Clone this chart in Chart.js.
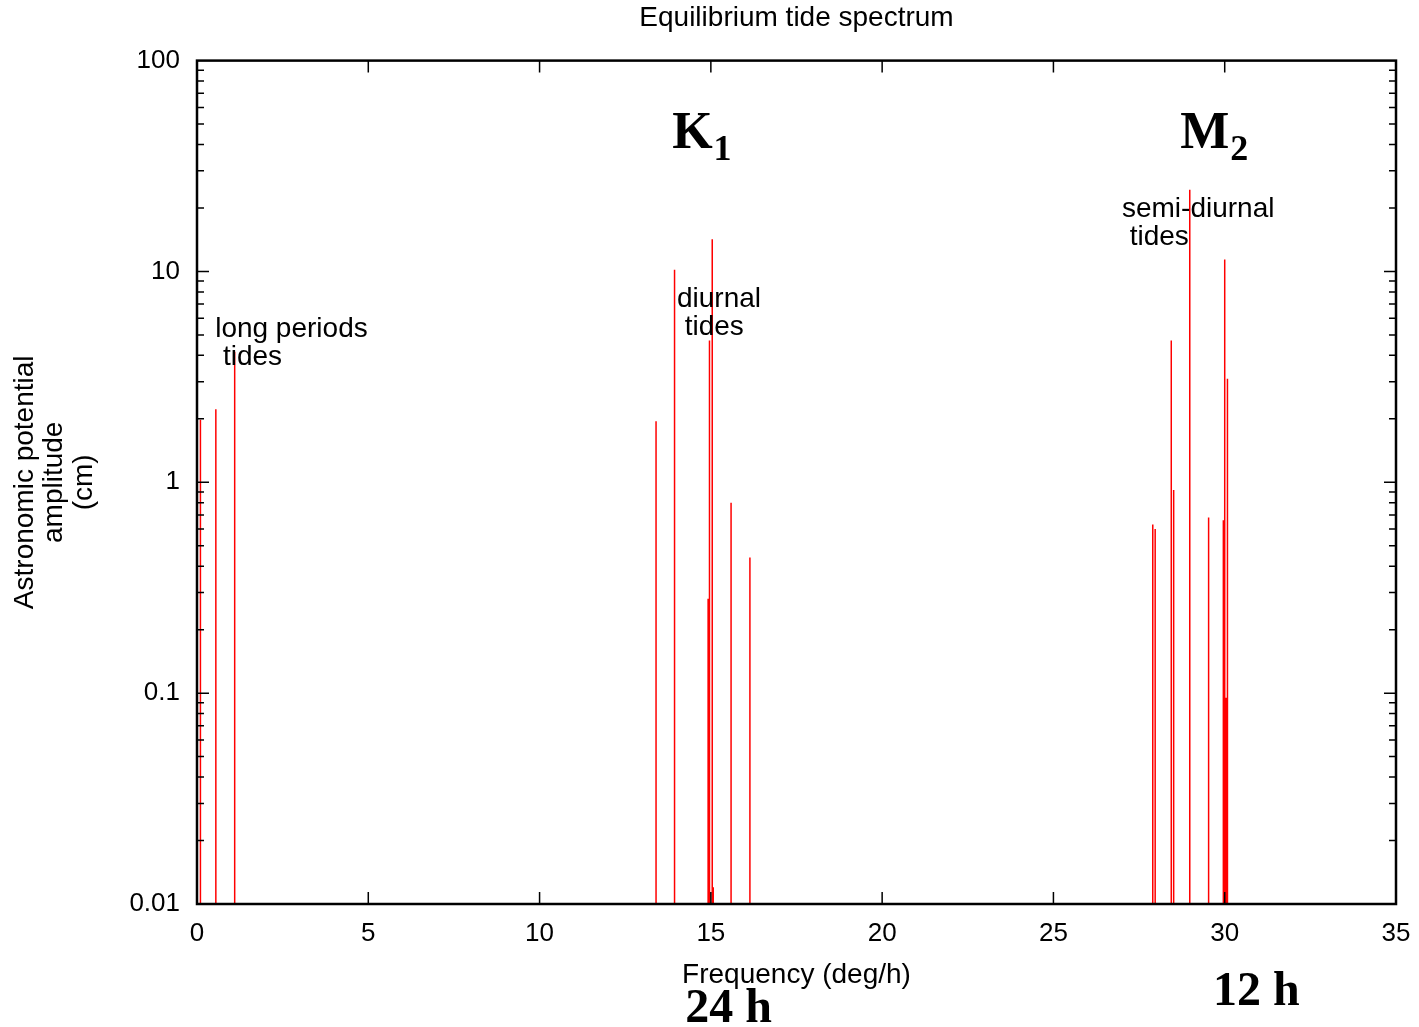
<!DOCTYPE html>
<html>
<head>
<meta charset="utf-8">
<script src="https://cdn.jsdelivr.net/npm/chart.js@4/dist/chart.umd.min.js"></script>
<style>
  html, body { margin: 0; padding: 0; background: #fff; }
  #wrap { width: 1419px; height: 1027px; }
</style>
</head>
<body>
<div id="wrap"><canvas id="tide-spectrum"></canvas></div>
<script>
// Spectral lines: frequency (deg/h) and amplitude (cm)

const longPeriodFreq = [0.1, 0.55, 1.1];
const longPeriodAmp = [1.98, 2.22, 4.16];

const diurnalFreq = [13.4, 13.94, 14.92, 14.96, 15.04, 15.07, 15.59, 16.14];
const diurnalAmp = [1.95, 10.2, 0.28, 4.7, 14.2, 0.012, 0.8, 0.44];

const semiDiurnalFreq = [27.9, 27.97, 28.44, 28.51, 28.98, 29.53, 29.96, 30.0, 30.04, 30.08];
const semiDiurnalAmp = [0.63, 0.6, 4.7, 0.92, 24.4, 0.68, 0.66, 11.4, 0.095, 3.1];

const xTicks = [0, 5, 10, 15, 20, 25, 30, 35];
const yTicks = [0.01, 0.1, 1, 10, 100];
const yTickLabels = ["0.01", "0.1", "1", "10", "100"];

const SANS = "'Liberation Sans', Arial, Helvetica, sans-serif";
const SERIF = "'Liberation Serif', 'Times New Roman', serif";

// each line goes from the bottom of the axis up to its amplitude
function spikes(freq, amp) {
  const pts = [];
  freq.forEach((f, i) => {
    pts.push({ x: f, y: yTicks[0] }, { x: f, y: amp[i] }, { x: f, y: null });
  });
  return pts;
}

const lineStyle = {
  borderColor: "#ff0000",
  borderWidth: 1.5,
  pointRadius: 0,
  spanGaps: false,
  tension: 0,
};

// gnuplot style frame: border on four sides, ticks pointing inward
const framePlugin = {
  id: "frame",
  afterDraw(chart) {
    const { ctx, chartArea: a, scales } = chart;
    ctx.save();
    ctx.strokeStyle = "#000";
    ctx.lineWidth = 1.5;
    ctx.beginPath();
    xTicks.forEach((v) => {
      const px = scales.x.getPixelForValue(v);
      ctx.moveTo(px, a.bottom);
      ctx.lineTo(px, a.bottom - 12);
      ctx.moveTo(px, a.top);
      ctx.lineTo(px, a.top + 12);
    });
    for (let e = -2; e < 2; e++) {
      for (let m = 1; m <= 9; m++) {
        const py = scales.y.getPixelForValue(m * Math.pow(10, e));
        const len = m === 1 ? 12 : 7;
        ctx.moveTo(a.left, py);
        ctx.lineTo(a.left + len, py);
        ctx.moveTo(a.right, py);
        ctx.lineTo(a.right - len, py);
      }
    }
    ctx.stroke();
    ctx.lineWidth = 2.5;
    ctx.strokeRect(a.left, a.top, a.right - a.left, a.bottom - a.top);
    ctx.restore();
  },
};

// text labels placed in data units (x) and data or axis offsets (y)
const notes = [
  { lines: ["long periods", " tides"], x: 0.53, y: 4.9 },
  { lines: ["diurnal", " tides"], x: 14.01, y: 6.81 },
  { lines: ["semi-diurnal", " tides"], x: 27.0, y: 18.2 },
];
const bigLabels = [
  { main: "K", sub: "1", x: 13.87, y: 38.6 },
  { main: "M", sub: "2", x: 28.7, y: 38.6 },
];
const periodLabels = [
  { text: "24 h", x: 14.25, below: 118 },
  { text: "12 h", x: 29.66, below: 101 },
];

const notesPlugin = {
  id: "notes",
  afterDraw(chart) {
    const { ctx, chartArea: a, scales } = chart;
    ctx.save();
    ctx.fillStyle = "#000";
    ctx.textAlign = "left";
    ctx.textBaseline = "alphabetic";

    ctx.font = "28px " + SANS;
    notes.forEach((n) => {
      const px = scales.x.getPixelForValue(n.x);
      const py = scales.y.getPixelForValue(n.y);
      n.lines.forEach((t, i) => ctx.fillText(t, px, py + i * 28));
    });

    bigLabels.forEach((b) => {
      const px = scales.x.getPixelForValue(b.x);
      const py = scales.y.getPixelForValue(b.y);
      ctx.font = "bold 52px " + SERIF;
      ctx.fillText(b.main, px, py);
      const w = ctx.measureText(b.main).width;
      ctx.font = "bold 36px " + SERIF;
      ctx.fillText(b.sub, px + w + 1, py + 12);
    });

    ctx.font = "bold 48px " + SERIF;
    periodLabels.forEach((p) => {
      ctx.fillText(p.text, scales.x.getPixelForValue(p.x), a.bottom + p.below);
    });
    ctx.restore();
  },
};

new Chart(document.getElementById("tide-spectrum"), {
  type: "line",
  data: {
    datasets: [
      { label: "Long period", data: spikes(longPeriodFreq, longPeriodAmp), ...lineStyle },
      { label: "Diurnal", data: spikes(diurnalFreq, diurnalAmp), ...lineStyle },
      { label: "Semi-diurnal", data: spikes(semiDiurnalFreq, semiDiurnalAmp), ...lineStyle },
    ],
  },
  options: {
    responsive: true,
    maintainAspectRatio: false,
    animation: false,
    layout: { padding: { left: 0, right: 23, top: 0, bottom: 0 } },
    plugins: {
      legend: { display: false },
      tooltip: { enabled: false },
      title: {
        display: true,
        fullSize: false,
        text: "Equilibrium tide spectrum",
        color: "#000",
        font: { family: SANS, size: 28, weight: "normal" },
        padding: { top: 1, bottom: 26 },
      },
    },
    scales: {
      x: {
        type: "linear",
        min: 0,
        max: 35,
        afterBuildTicks: (s) => { s.ticks = xTicks.map((v) => ({ value: v })); },
        afterFit: (s) => {
          s.height = 123;
          s.paddingLeft = 0;
          s.paddingRight = 0;
        },
        grid: { display: false, drawTicks: false },
        border: { display: false },
        ticks: {
          color: "#000",
          font: { family: SANS, size: 26 },
          padding: 14,
          maxRotation: 0,
        },
        title: {
          display: true,
          text: "Frequency (deg/h)",
          color: "#000",
          font: { family: SANS, size: 28 },
          padding: { top: 0, bottom: 35 },
        },
      },
      y: {
        type: "logarithmic",
        min: 0.01,
        max: 100,
        afterBuildTicks: (s) => { s.ticks = yTicks.map((v) => ({ value: v })); },
        afterFit: (s) => { s.width = 197; },
        grid: { display: false, drawTicks: false },
        border: { display: false },
        ticks: {
          color: "#000",
          font: { family: SANS, size: 26 },
          padding: 17,
          callback: (v) => yTickLabels[yTicks.indexOf(v)],
        },
        title: {
          display: true,
          text: ["Astronomic potential", "amplitude", "(cm)"],
          color: "#000",
          font: { family: SANS, size: 28, lineHeight: 1.04 },
          padding: { top: 11, bottom: 0 },
        },
      },
    },
  },
  plugins: [framePlugin, notesPlugin],
});
</script>
</body>
</html>
